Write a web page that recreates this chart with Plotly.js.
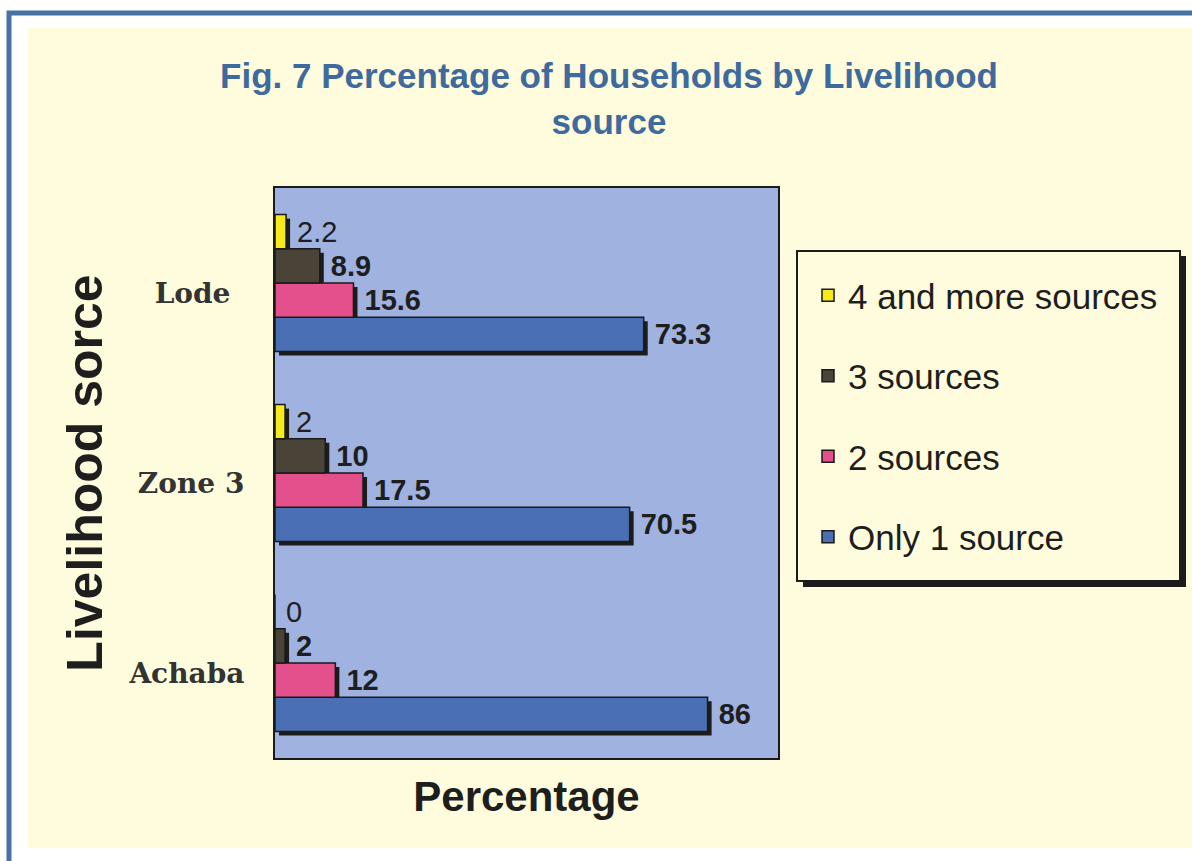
<!DOCTYPE html>
<html>
<head>
<meta charset="utf-8">
<script src="https://cdn.plot.ly/plotly-3.0.1.min.js"></script>
<style>
  html, body { margin: 0; padding: 0; background: #ffffff; }
  #chart { width: 1192px; height: 861px; }
</style>
</head>
<body>
<div id="chart"></div>
<script>
// Households by number of livelihood sources, per site (percent)
const sites = ['Lode', 'Zone 3', 'Achaba'];
const siteOrder = ['Achaba', 'Zone 3', 'Lode'];              // bottom to top
const siteTickText = ['Achaba', 'Zone 3', 'Lode\u2002'];     // padded so labels sit centred
const seriesNames = ['Only 1 source', '2 sources', '3 sources', '4 and more sources'];
const only1 = [73.3, 70.5, 86];
const two = [15.6, 17.5, 12];
const three = [8.9, 10, 2];
const fourPlus = [2.2, 2, 0];

const seriesValues = [only1, two, three, fourPlus];
const seriesColors = ['#4A6FB5', '#E3508B', '#4A4338', '#F6EA1C'];

// page geometry (pixels)
const W = 1192, H = 861;
const M = { l: 275, r: 414, t: 188, b: 103 };
const PW = W - M.l - M.r, PH = H - M.t - M.b;
const px = v => (v - M.l) / PW;
const py = v => (H - M.b - v) / PH;

const FONT = 'Arial, "Liberation Sans", sans-serif';
const SERIF = '"DejaVu Serif", serif';
const CREAM = '#FEFCDC';
const INK = '#1e1e1e';

// bar slots within each category band
const slot = 0.18;
const start = -0.36;
const shadowDx = 0.8;      // x units
const shadowDy = 0.021;    // category units
const labelGap = 1.6;      // x units between bar end and its value label

const shadows = [];
const bars = [];
const labels = [];
seriesValues.forEach((vals, i) => {
  const group = 'g' + i;
  const off = start + i * slot;
  // drop shadow behind each bar
  shadows.push({
    type: 'bar', orientation: 'h',
    y: sites, x: vals, base: shadowDx,
    offset: off - shadowDy, width: slot,
    marker: { color: '#1c1c1c', line: { width: 0 } },
    showlegend: false, legendgroup: group, hoverinfo: 'skip'
  });
  bars.push({
    type: 'bar', orientation: 'h',
    y: sites, x: vals,
    offset: off, width: slot,
    name: seriesNames[i],
    legendgroup: group,
    legendrank: 4 - i,
    marker: { color: seriesColors[i], line: { color: '#1a1a1a', width: 1.5 } },
    hovertemplate: '%{y}: %{x}%<extra>' + seriesNames[i] + '</extra>'
  });
  // value labels, placed just past the shadow
  labels.push({
    type: 'bar', orientation: 'h',
    y: sites, x: vals, base: labelGap,
    offset: off, width: slot,
    marker: { color: 'rgba(0,0,0,0)', line: { width: 0 } },
    text: vals.map(v => String(v)),
    textposition: 'outside',
    constraintext: 'none',
    cliponaxis: false,
    textfont: { family: FONT, size: 29, color: INK, weight: i === 3 ? 'normal' : 'bold' },
    showlegend: false, legendgroup: group, hoverinfo: 'skip'
  });
});

const shapes = [
  // white margin around the cream panel
  { type: 'rect', xref: 'paper', yref: 'paper', x0: px(0), x1: px(W), y0: py(0), y1: py(28),
    fillcolor: '#ffffff', line: { width: 0 }, layer: 'above' },
  { type: 'rect', xref: 'paper', yref: 'paper', x0: px(0), x1: px(28), y0: py(0), y1: py(H),
    fillcolor: '#ffffff', line: { width: 0 }, layer: 'above' },
  { type: 'rect', xref: 'paper', yref: 'paper', x0: px(0), x1: px(W), y0: py(848), y1: py(H),
    fillcolor: '#ffffff', line: { width: 0 }, layer: 'above' },
  // blue frame
  { type: 'rect', xref: 'paper', yref: 'paper', x0: px(9), x1: px(W + 60), y0: py(13), y1: py(H + 60),
    fillcolor: 'rgba(0,0,0,0)', line: { color: '#4672A4', width: 5 }, layer: 'above' },
  // legend box with drop shadow
  { type: 'rect', xref: 'paper', yref: 'paper', x0: px(803), x1: px(1186), y0: py(256), y1: py(587),
    fillcolor: '#1c1c1c', line: { width: 0 }, layer: 'above' },
  { type: 'rect', xref: 'paper', yref: 'paper', x0: px(797), x1: px(1180), y0: py(251), y1: py(581),
    fillcolor: CREAM, line: { color: '#1c1c1c', width: 2 }, layer: 'above' }
];

const layout = {
  width: W, height: H,
  margin: M,
  paper_bgcolor: CREAM,
  plot_bgcolor: '#9FB2E0',
  barmode: 'overlay',
  showlegend: true,
  title: {
    text: 'Fig. 7 Percentage of Households by Livelihood<br>source',
    font: { family: FONT, size: 35, weight: 'bold', color: '#3E6A9E' },
    xref: 'container', x: 609 / W, xanchor: 'center',
    yref: 'container', y: 1 - 88 / H, yanchor: 'top'
  },
  xaxis: {
    range: [0, 100],
    showticklabels: false, ticks: '', showgrid: false, zeroline: false,
    showline: true, mirror: true, linecolor: '#1a1a1a', linewidth: 2,
    title: { text: 'Percentage', standoff: 23,
             font: { family: FONT, size: 42, weight: 'bold', color: INK } }
  },
  yaxis: {
    type: 'category', categoryorder: 'array', categoryarray: siteOrder,
    tickmode: 'array', tickvals: siteOrder, ticktext: siteTickText,
    range: [-0.5, 2.5],
    ticks: '', showgrid: false, zeroline: false,
    showline: true, mirror: true, linecolor: '#1a1a1a', linewidth: 2,
    ticklabelstandoff: 23, ticklabelshift: 10,
    tickfont: { family: SERIF, size: 28, weight: 'bold', color: '#333333' },
    title: { text: 'Livelihood sorce', standoff: 10,
             font: { family: FONT, size: 50, weight: 'bold', color: INK } }
  },
  legend: {
    x: px(808), xanchor: 'left',
    y: py(266), yanchor: 'top',
    bgcolor: 'rgba(0,0,0,0)', borderwidth: 0,
    traceorder: 'grouped', tracegroupgap: 32,
    font: { family: FONT, size: 35, color: INK }
  },
  shapes: shapes
};

Plotly.newPlot('chart', shadows.concat(bars, labels), layout, { displayModeBar: false, responsive: false });
</script>
</body>
</html>
